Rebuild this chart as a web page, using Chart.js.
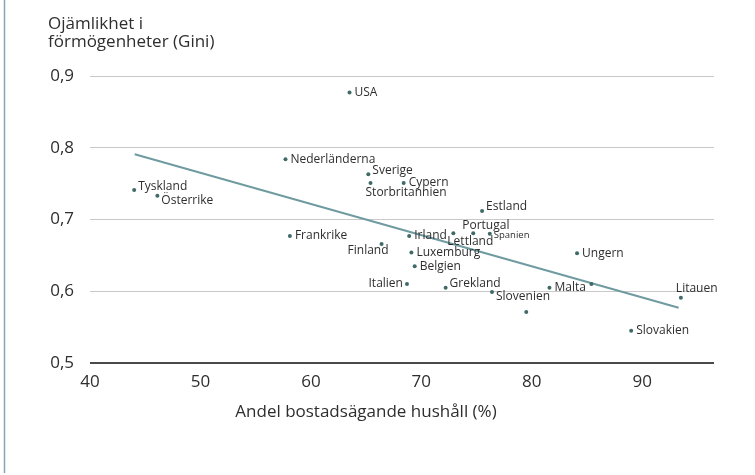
<!DOCTYPE html>
<html>
<head>
    <meta charset="utf-8">
    <script src="https://cdn.jsdelivr.net/npm/chart.js@4/dist/chart.umd.min.js"></script>
    <style>
        html, body {
            margin: 0;
            padding: 0;
            background: white;
        }
        #wrap {
            width: 755px;
            height: 475px;
        }
    </style>
</head>
<body>
    <div id="wrap"><canvas id="giniChart" width="755" height="475"></canvas></div>

    <script>
        // Countries (empty name = unlabelled dot)
        var countries = ['USA', 'Nederländerna', 'Sverige', 'Storbritannien', 'Cypern', 'Tyskland', 'Österrike',
            'Estland', 'Frankrike', 'Irland', 'Lettland', 'Portugal', 'Spanien', 'Finland', 'Luxemburg',
            'Belgien', 'Italien', 'Grekland', 'Slovenien', '', 'Malta', 'Ungern', '', 'Litauen', 'Slovakien'];

        // Share of home-owning households (%)
        var ownership = [63.5, 57.7, 65.2, 65.4, 68.4, 44.0, 46.1,
            75.5, 58.1, 68.9, 72.9, 74.7, 76.2, 66.4, 69.1,
            69.4, 68.7, 72.2, 76.4, 79.5, 81.6, 84.1, 85.4, 93.5, 89.0];

        // Wealth inequality (Gini)
        var gini = [0.877, 0.784, 0.763, 0.751, 0.751, 0.741, 0.733,
            0.712, 0.677, 0.677, 0.681, 0.681, 0.680, 0.666, 0.654,
            0.635, 0.610, 0.605, 0.599, 0.571, 0.605, 0.653, 0.610, 0.591, 0.545];

        // where each label sits relative to its dot
        var labelSpots = ['r', 'r', 'ru', 'below', 'r', 'ru', 'rd',
            'ru', 'r', 'r', 'belowL', 'above', 'small', 'belowR', 'r',
            'r', 'l', 'ru', 'rd', 'r', 'r', 'r', 'r', 'aboveL', 'r'];

        // Trend line end points
        var trendX = [44.05, 93.3];
        var trendY = [0.791, 0.577];

        var xTicks = [40, 50, 60, 70, 80, 90];
        var yTicks = [0.5, 0.6, 0.7, 0.8, 0.9];

        var yTitle = ['Ojämlikhet i', 'förmögenheter (Gini)'];
        var xTitle = 'Andel bostadsägande hushåll (%)';

        var textColor = '#2e2e2e';
        var dotColor = '#3f6a66';
        var trendColor = '#6f9ba0';
        var fontFam = '"Open Sans", Lato, sans-serif';

        // offsets for label placement: [dx, dy, align, size]
        var spotStyle = {
            r: [5, 0, 'left', 12],
            ru: [4, -4, 'left', 12],
            rd: [4, 5, 'left', 12],
            l: [-4, 0, 'right', 12],
            below: [-5, 10, 'left', 12],
            belowL: [-6, 8, 'left', 12],
            belowR: [7, 7, 'right', 12],
            above: [-11, -8, 'left', 12],
            aboveL: [-5, -9, 'left', 12],
            small: [4, 1, 'left', 9.5]
        };

        var points = [];
        for (var i = 0; i < ownership.length; i++) {
            points.push({ x: ownership[i], y: gini[i] });
        }

        var trendPoints = [
            { x: trendX[0], y: trendY[0] },
            { x: trendX[1], y: trendY[1] }
        ];

        // labels, titles and the thin line at the left edge
        var annotations = {
            id: 'annotations',
            afterDraw: function(chart) {
                var ctx = chart.ctx;
                var xs = chart.scales.x;
                var ys = chart.scales.y;
                ctx.save();

                ctx.strokeStyle = '#86a9ad';
                ctx.lineWidth = 1.5;
                ctx.beginPath();
                ctx.moveTo(4.5, 0);
                ctx.lineTo(4.5, 473);
                ctx.stroke();

                ctx.fillStyle = textColor;
                ctx.textBaseline = 'middle';
                for (var i = 0; i < countries.length; i++) {
                    if (!countries[i]) continue;
                    var s = spotStyle[labelSpots[i]];
                    var px = xs.getPixelForValue(ownership[i]);
                    var py = ys.getPixelForValue(gini[i]);
                    ctx.font = s[3] + 'px ' + fontFam;
                    ctx.textAlign = s[2];
                    ctx.fillText(countries[i], px + s[0], py + s[1]);
                }

                ctx.font = '17px ' + fontFam;
                ctx.textAlign = 'left';
                ctx.fillText(yTitle[0], 48, 24);
                ctx.fillText(yTitle[1], 48, 42);

                ctx.textAlign = 'center';
                ctx.fillText(xTitle, 366, 412);
                ctx.restore();
            }
        };

        var ctx = document.getElementById('giniChart').getContext('2d');
        var chart = new Chart(ctx, {
            type: 'scatter',
            data: {
                datasets: [{
                    data: points,
                    backgroundColor: dotColor,
                    borderColor: dotColor,
                    pointRadius: 2,
                    pointBorderWidth: 0
                }, {
                    type: 'line',
                    data: trendPoints,
                    borderColor: trendColor,
                    borderWidth: 2,
                    pointRadius: 0,
                    fill: false
                }]
            },
            options: {
                responsive: false,
                animation: false,
                layout: {
                    padding: { top: 76, right: 41, left: 0, bottom: 0 }
                },
                plugins: {
                    legend: { display: false },
                    tooltip: { enabled: false }
                },
                scales: {
                    x: {
                        type: 'linear',
                        min: 40,
                        max: 96.5,
                        afterFit: function(scale) { scale.height = 112; },
                        afterBuildTicks: function(scale) {
                            scale.ticks = xTicks.map(function(v) { return { value: v }; });
                        },
                        grid: { display: false, drawTicks: false },
                        border: { display: false },
                        ticks: {
                            padding: 9,
                            color: textColor,
                            font: { family: fontFam, size: 17 }
                        }
                    },
                    y: {
                        min: 0.5,
                        max: 0.9,
                        afterFit: function(scale) { scale.width = 90; },
                        afterBuildTicks: function(scale) {
                            scale.ticks = yTicks.map(function(v) { return { value: v }; });
                        },
                        grid: {
                            drawTicks: false,
                            color: function(c) { return c.tick && c.tick.value === 0.5 ? '#4a4a4a' : '#c9c9c9'; },
                            lineWidth: function(c) { return c.tick && c.tick.value === 0.5 ? 2 : 1; }
                        },
                        border: { display: false },
                        ticks: {
                            padding: 16,
                            color: textColor,
                            font: { family: fontFam, size: 17 },
                            callback: function(v) { return v.toFixed(1).replace('.', ','); }
                        }
                    }
                }
            },
            plugins: [annotations]
        });
    </script>
</body>
</html>
